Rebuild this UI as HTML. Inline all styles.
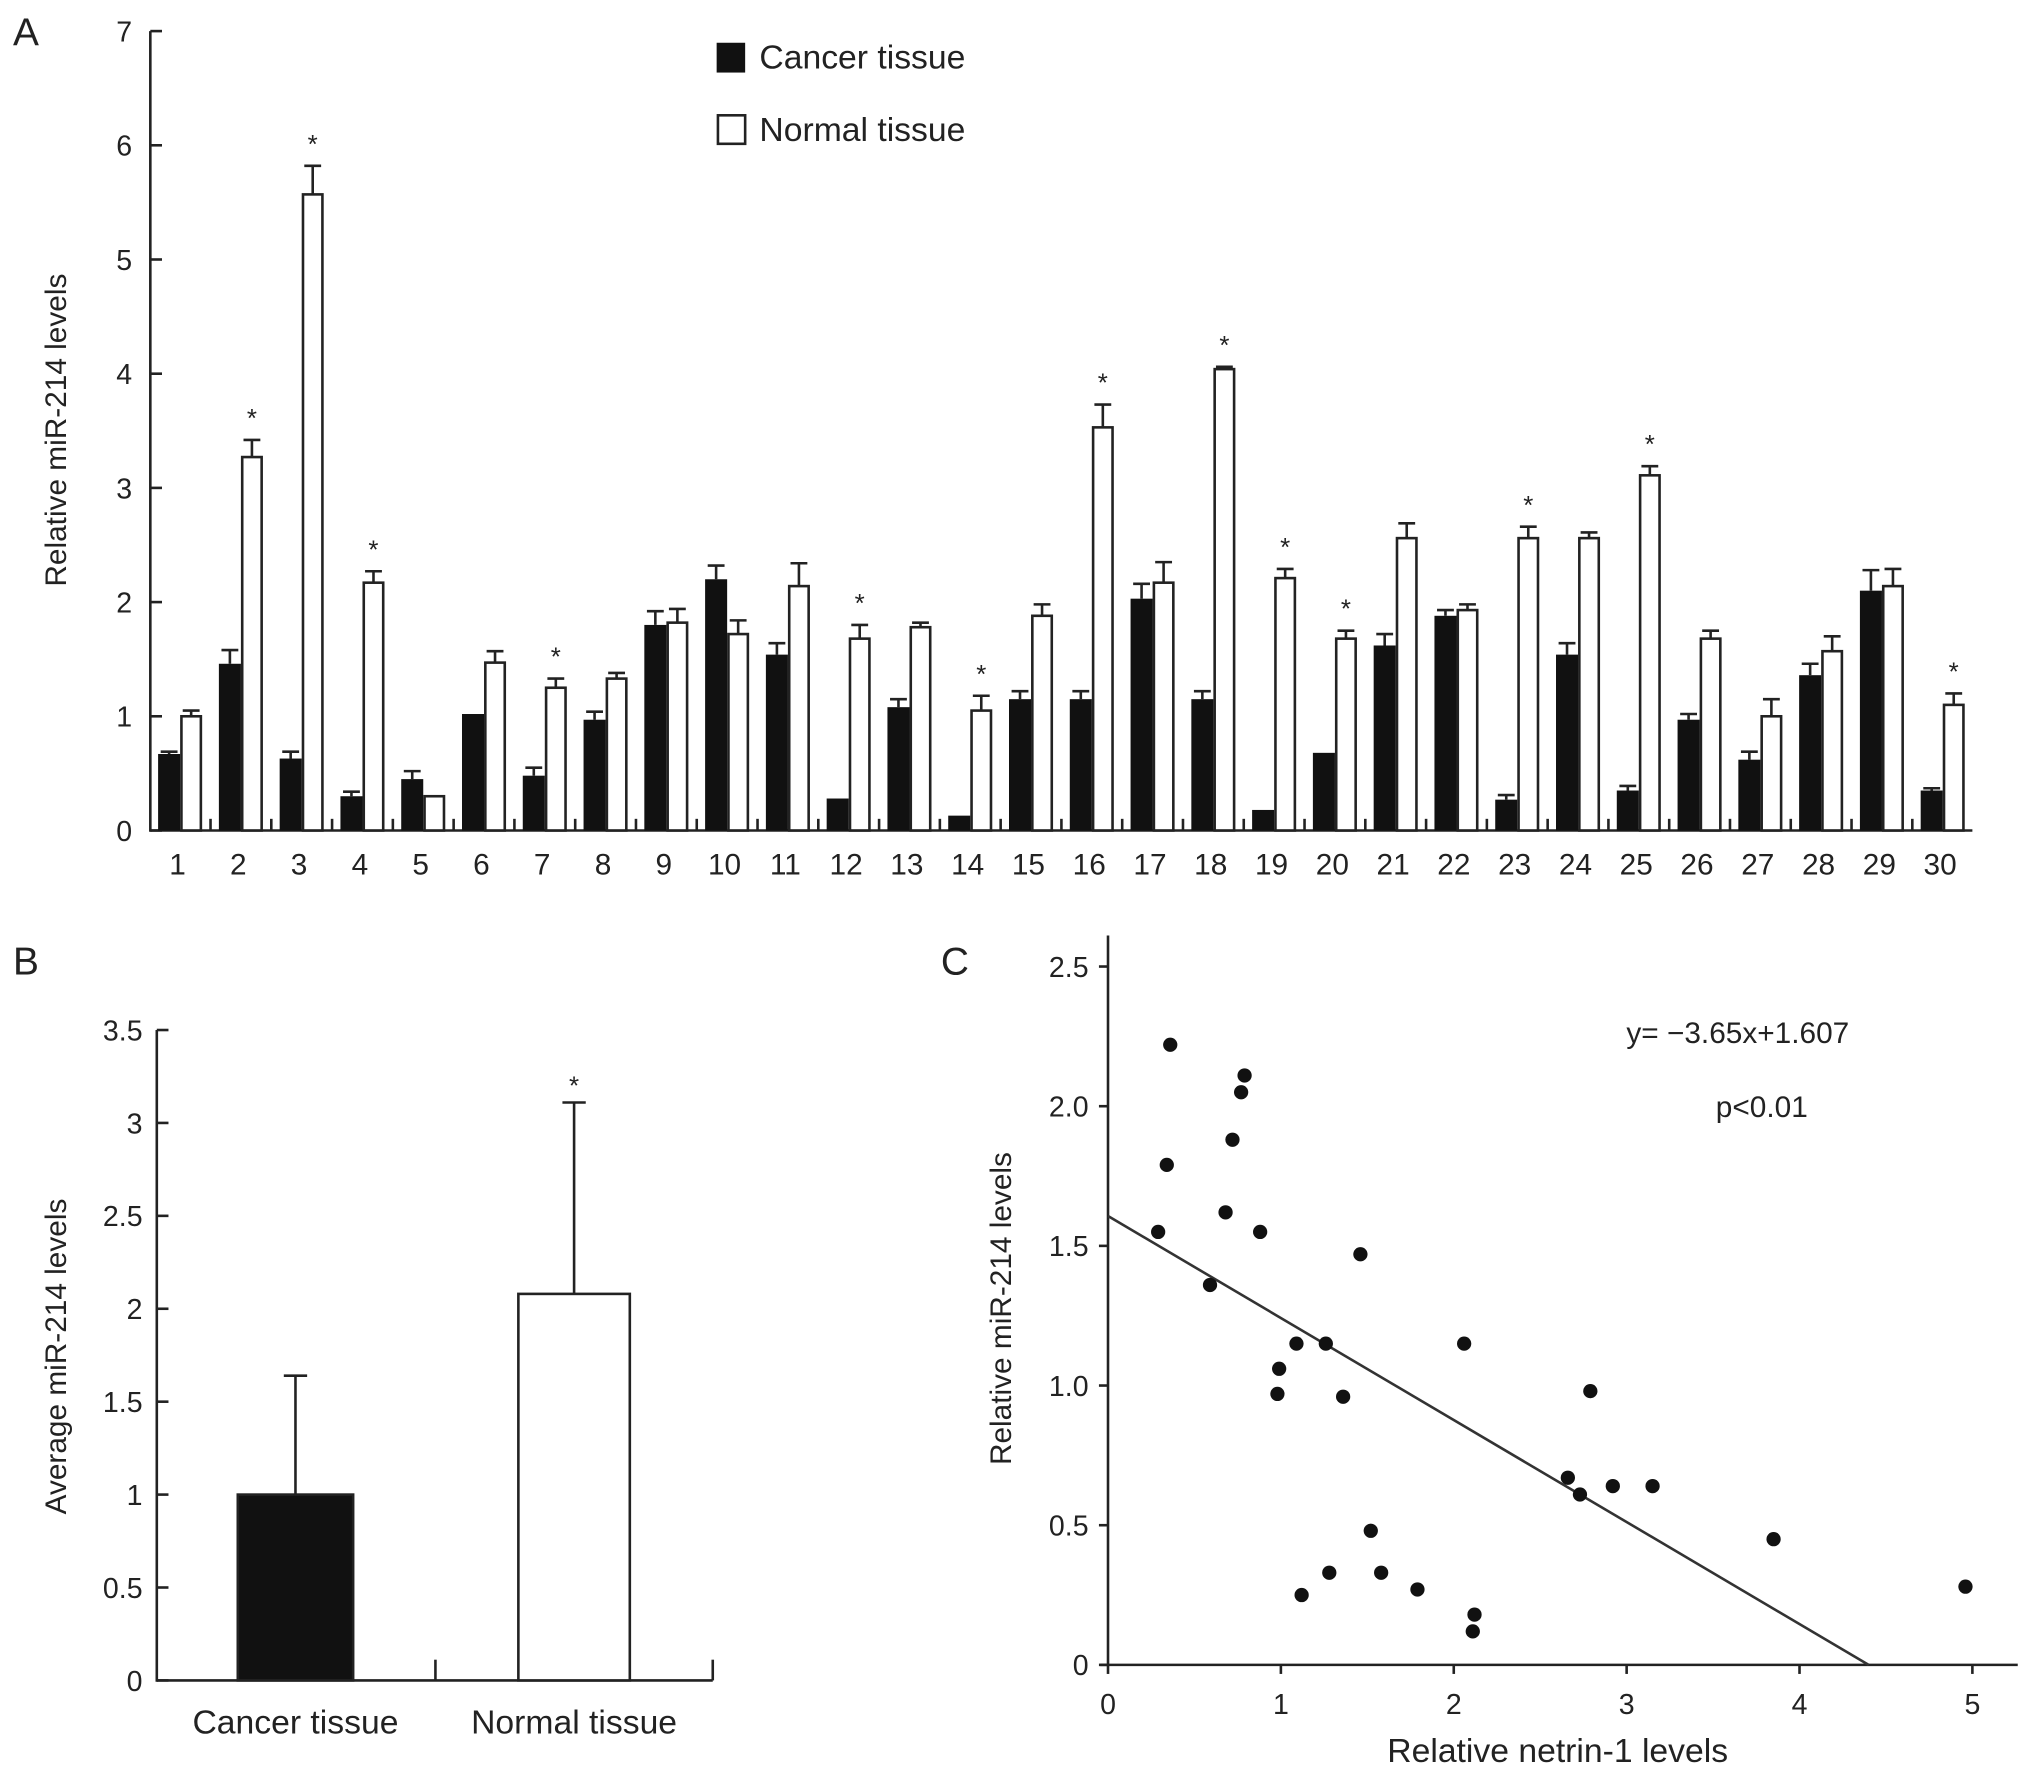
<!DOCTYPE html>
<html><head><meta charset="utf-8"><style>
html,body{margin:0;padding:0;background:#fff;}
svg{display:block;}
text{font-family:"Liberation Sans",sans-serif;fill:#222;}
</style></head><body>
<svg id="fig" width="2032" height="1775" viewBox="0 0 1568 1370" preserveAspectRatio="none" xmlns="http://www.w3.org/2000/svg">
<g id="pA"></g>
<g id="pB"></g>
<g id="pC"></g>
</svg>
<script>
const groups=[1,2,3,4,5,6,7,8,9,10,11,12,13,14,15,16,17,18,19,20,21,22,23,24,25,26,27,28,29,30];
const cancerVals=[0.67,1.46,0.63,0.3,0.45,1.02,0.48,0.97,1.8,2.2,1.54,0.28,1.08,0.13,1.15,1.15,2.03,1.15,0.18,0.68,1.62,1.88,0.27,1.54,0.35,0.97,0.62,1.36,2.1,0.35];
const cancerErr=[0.02,0.12,0.06,0.04,0.07,0,0.07,0.07,0.12,0.12,0.1,0,0.07,0,0.07,0.07,0.13,0.07,0,0,0.1,0.05,0.04,0.1,0.04,0.05,0.07,0.1,0.18,0.02];
const normalVals=[1.0,3.27,5.57,2.17,0.3,1.47,1.25,1.33,1.82,1.72,2.14,1.68,1.78,1.05,1.88,3.53,2.17,4.04,2.21,1.68,2.56,1.93,2.56,2.56,3.11,1.68,1.0,1.57,2.14,1.1];
const normalErr=[0.05,0.15,0.25,0.1,0,0.1,0.08,0.05,0.12,0.12,0.2,0.12,0.04,0.13,0.1,0.2,0.18,0.02,0.08,0.07,0.13,0.05,0.1,0.05,0.08,0.07,0.15,0.13,0.15,0.1];
const starGroups=[2,3,4,7,12,14,16,18,19,20,23,25,30];
const yTicksA=[0,1,2,3,4,5,6,7];
const avgCats=["Cancer tissue","Normal tissue"];
const avgVals=[1.0,2.08];
const avgErr=[0.64,1.03];
const yTicksB=[0,0.5,1,1.5,2,2.5,3,3.5];
const yTickLabelsB=["0","0.5","1","1.5","2","2.5","3","3.5"];
const scatterX=[0.36,0.79,0.77,0.72,0.34,0.68,0.29,0.88,1.46,0.59,1.09,1.26,2.06,0.99,0.98,1.36,2.79,2.66,2.92,3.15,2.73,1.52,3.85,4.96,1.28,1.58,1.79,1.12,2.12,2.11];
const scatterY=[2.22,2.11,2.05,1.88,1.79,1.62,1.55,1.55,1.47,1.36,1.15,1.15,1.15,1.06,0.97,0.96,0.98,0.67,0.64,0.64,0.61,0.48,0.45,0.28,0.33,0.33,0.27,0.25,0.18,0.12];
const yTicksC=[0,0.5,1.0,1.5,2.0,2.5];
const yTickLabelsC=["0","0.5","1.0","1.5","2.0","2.5"];
const xTicksC=[0,1,2,3,4,5];
const fitLineStart=[0,1.607];
const fitLineEnd=[4.4,0];

const NS="http://www.w3.org/2000/svg";
function el(parent,tag,attrs,txt){const e=document.createElementNS(NS,tag);for(const k in attrs)e.setAttribute(k,attrs[k]);if(txt!==undefined)e.textContent=txt;parent.appendChild(e);return e;}

// Panel A
const A=document.getElementById('pA');
const ax0=116, ax1=1522, ay0=641, ayTop=24;
const yA=v=>ay0-(v/7)*(ay0-ayTop);
const gStep=46.9, gStart=139;
const xA=i=>gStart+i*gStep;
const bw=17;
let t;
t=el(A,'text',{x:10,y:35,'font-size':30},'A');

t=el(A,'line',{x1:ax0,y1:ayTop,x2:ax0,y2:ay0+1,stroke:'#222','stroke-width':2});

t=el(A,'line',{x1:ax0,y1:ay0,x2:ax1,y2:ay0,stroke:'#222','stroke-width':2});

yTicksA.forEach(v=>{
 t=el(A,'line',{x1:ax0,y1:yA(v),x2:ax0+9,y2:yA(v),stroke:'#222','stroke-width':2});
 
 t=el(A,'text',{x:102,y:yA(v)+8,'font-size':22,'text-anchor':'end'},String(v));
 
});
t=el(A,'text',{x:0,y:0,'font-size':23,'text-anchor':'middle',transform:'translate(51,332) rotate(-90)'},'Relative miR-214 levels');

groups.forEach((g,i)=>{
 const c=xA(i);
 if(i>0){t=el(A,'line',{x1:c-gStep/2,y1:ay0,x2:c-gStep/2,y2:ay0-9,stroke:'#222','stroke-width':2});
 }
 const cy=yA(cancerVals[i]);
 if(cancerErr[i]>0){const ey=yA(cancerVals[i]+cancerErr[i]);
  t=el(A,'path',{d:`M${c-bw/2} ${cy}V${ey}M${c-bw+2} ${ey}H${c-2}`,stroke:'#222','stroke-width':2,fill:'none'});
  }
 t=el(A,'rect',{x:c-bw,y:cy,width:bw,height:ay0-cy,fill:'#111'});
 
 const ny=yA(normalVals[i]);
 if(normalErr[i]>0){const ey=yA(normalVals[i]+normalErr[i]);
  t=el(A,'path',{d:`M${c+bw/2} ${ny}V${ey}M${c+2} ${ey}H${c+bw-2}`,stroke:'#222','stroke-width':2,fill:'none'});
  }
 t=el(A,'rect',{x:c+1,y:ny,width:bw-2,height:ay0-ny,fill:'#fff',stroke:'#222','stroke-width':2});
 
 if(starGroups.includes(g)){
  t=el(A,'text',{x:c+bw/2,y:yA(normalVals[i]+normalErr[i])-10,'font-size':20,'text-anchor':'middle'},'*');
  }
 t=el(A,'text',{x:c-2,y:675,'font-size':23,'text-anchor':'middle'},String(g));
 
});
t=el(A,'rect',{x:553,y:33,width:22,height:23,fill:'#111'});

t=el(A,'text',{x:586,y:53,'font-size':26},'Cancer tissue');

t=el(A,'rect',{x:554,y:89,width:21,height:22,fill:'#fff',stroke:'#222','stroke-width':2});

t=el(A,'text',{x:586,y:109,'font-size':26},'Normal tissue');


// Panel B
const B=document.getElementById('pB');
const bx0=121,bx1=550,by0=1297,byTop=795;
const yB=v=>by0-(v/3.5)*(by0-byTop);
const barCx=[228,443], barW=[89,86];
t=el(B,'text',{x:10,y:752,'font-size':30},'B');

t=el(B,'line',{x1:bx0,y1:byTop,x2:bx0,y2:by0+1,stroke:'#222','stroke-width':2});

t=el(B,'line',{x1:bx0,y1:by0,x2:bx1,y2:by0,stroke:'#222','stroke-width':2});

[336,550].forEach(x=>{t=el(B,'line',{x1:x,y1:by0,x2:x,y2:by0-16,stroke:'#222','stroke-width':2});
 });
yTicksB.forEach((v,i)=>{
 t=el(B,'line',{x1:bx0,y1:yB(v),x2:bx0+9,y2:yB(v),stroke:'#222','stroke-width':2});
 
 t=el(B,'text',{x:110,y:yB(v)+8,'font-size':22,'text-anchor':'end'},yTickLabelsB[i]);
 
});
t=el(B,'text',{x:0,y:0,'font-size':23,'text-anchor':'middle',transform:'translate(51,1047) rotate(-90)'},'Average miR-214 levels');

avgCats.forEach((c,i)=>{
 const x=barCx[i],y=yB(avgVals[i]),ey=yB(avgVals[i]+avgErr[i]);
 t=el(B,'path',{d:`M${x} ${y}V${ey}M${x-9} ${ey}H${x+9}`,stroke:'#222','stroke-width':2,fill:'none'});
 
 t=el(B,'rect',{x:x-barW[i]/2,y:y,width:barW[i],height:by0-y,fill:i==0?'#111':'#fff',stroke:'#222','stroke-width':2});
 
 t=el(B,'text',{x:x,y:1338,'font-size':26,'text-anchor':'middle'},c);
 
});
t=el(B,'text',{x:barCx[1],y:yB(avgVals[1]+avgErr[1])-6,'font-size':20,'text-anchor':'middle'},'*');


// Panel C
const C=document.getElementById('pC');
const cx0=855,cy0=1285,cyTop=746;
const xC=v=>cx0+v*133.4;
const yC=v=>cy0-(v/2.5)*(cy0-cyTop);
t=el(C,'text',{x:726,y:752,'font-size':30},'C');

t=el(C,'line',{x1:cx0,y1:722,x2:cx0,y2:cy0+1,stroke:'#222','stroke-width':2});

t=el(C,'line',{x1:cx0-6,y1:cy0,x2:1557,y2:cy0,stroke:'#222','stroke-width':2});

yTicksC.forEach((v,i)=>{
 t=el(C,'line',{x1:cx0-7,y1:yC(v),x2:cx0,y2:yC(v),stroke:'#222','stroke-width':2});
 
 t=el(C,'text',{x:840,y:yC(v)+8,'font-size':22,'text-anchor':'end'},yTickLabelsC[i]);
 
});
xTicksC.forEach(v=>{
 t=el(C,'line',{x1:xC(v),y1:cy0,x2:xC(v),y2:cy0+7,stroke:'#222','stroke-width':2});
 
 t=el(C,'text',{x:xC(v),y:1323,'font-size':22,'text-anchor':'middle'},String(v));
 
});
t=el(C,'text',{x:1202,y:1360,'font-size':26,'text-anchor':'middle'},'Relative netrin-1 levels');

t=el(C,'text',{x:0,y:0,'font-size':23,'text-anchor':'middle',transform:'translate(780,1010) rotate(-90)'},'Relative miR-214 levels');

t=el(C,'line',{x1:xC(fitLineStart[0]),y1:yC(fitLineStart[1]),x2:xC(fitLineEnd[0]),y2:yC(fitLineEnd[1]),stroke:'#333','stroke-width':2});

scatterX.forEach((x,i)=>{
 t=el(C,'circle',{cx:xC(x),cy:yC(scatterY[i]),r:5.5,fill:'#111'});
 
});
t=el(C,'text',{x:1255,y:805,'font-size':23},'y= −3.65x+1.607');

t=el(C,'text',{x:1324,y:862,'font-size':23},'p<0.01');

</script>
</body></html>
